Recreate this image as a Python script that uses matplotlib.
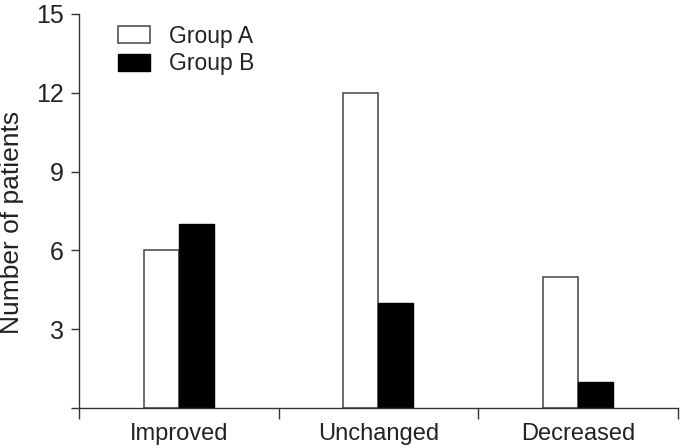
import matplotlib
matplotlib.use("Agg")
import matplotlib.pyplot as plt
import numpy as np

categories = ["Improved", "Unchanged", "Decreased"]
group_a = [6, 12, 5]
group_b = [7, 4, 1]
series_names = ["Group A", "Group B"]
y_ticks = [3, 6, 9, 12, 15]

plt.rcParams['font.family'] = ['Liberation Sans', 'DejaVu Sans']

fig = plt.figure(figsize=(6.8, 4.48), dpi=100)
ax = fig.add_axes([0.116, 0.089, 0.881, 0.880])

x = np.arange(len(categories))
w = 0.175
ax.bar(x - w/2, group_a, width=w, facecolor='white', edgecolor='#444444', linewidth=1.1, label=series_names[0])
ax.bar(x + w/2, group_b, width=w, facecolor='black', edgecolor='black', linewidth=1.0, label=series_names[1])

ax.set_xlim(-0.5, len(categories) - 0.5)
ax.set_ylim(0, 15)

for s in ['top', 'right']:
    ax.spines[s].set_visible(False)
for s in ['left', 'bottom']:
    ax.spines[s].set_color('#333333')
    ax.spines[s].set_linewidth(1.0)

ax.set_yticks([0] + y_ticks)
ax.set_yticklabels([''] + [str(v) for v in y_ticks])
ax.tick_params(axis='y', direction='out', length=6, width=1.0, color='#333333', labelsize=18, pad=5, labelcolor='#222222')

ax.set_xticks(np.arange(-0.5, len(categories), 1.0))
ax.set_xticklabels([''] * (len(categories) + 1))
ax.tick_params(axis='x', which='major', direction='out', length=8, width=1.0, color='#333333')
ax.set_xticks(x, minor=True)
ax.set_xticklabels(categories, minor=True)
ax.tick_params(axis='x', which='minor', length=0, labelsize=17, pad=11, labelcolor='#222222')

fig.text(12 / 680, 1 - 222 / 448, "Number of patients", rotation=90, fontsize=19,
         color='#222222', ha='center', va='center')

leg = ax.legend(loc='upper left', bbox_to_anchor=(0.04, 1.01), frameon=False, fontsize=16.5,
                handlelength=1.4, handleheight=0.75, handletextpad=0.85, labelspacing=0.2, borderaxespad=0.25)
for t in leg.get_texts():
    t.set_color('#222222')

fig.savefig("out.png", dpi=100)
